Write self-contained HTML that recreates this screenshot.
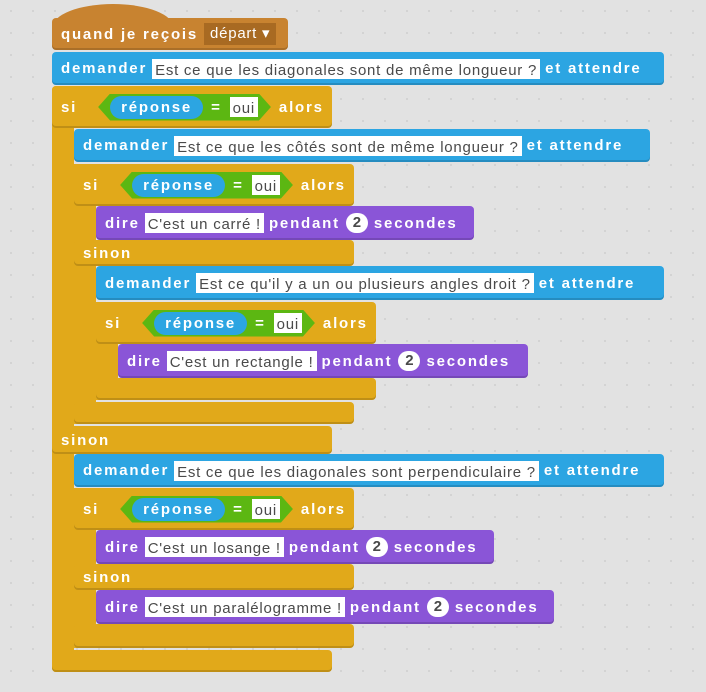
<!DOCTYPE html>
<html><head><meta charset="utf-8"><style>
body{margin:0;width:706px;height:692px;background:#e2e2e2;position:relative;overflow:hidden;
background-image:radial-gradient(#d2d2d2 1px,transparent 1.2px);background-size:22px 22px}
.b{position:absolute;border-radius:4px;display:flex;align-items:center;padding-left:9px;box-sizing:border-box;color:#fff;font:bold 15px "Liberation Sans",sans-serif;letter-spacing:1.8px;white-space:nowrap;box-shadow:inset 0 -2px 0 rgba(0,0,0,.15)}
.r{position:absolute;box-sizing:border-box}
.c{background:#e1a91a}
.s{background:#2ca5e2}
.p{background:#8a55d7}
.inp{background:#fff;color:#4a4a4a;font-weight:normal;letter-spacing:0.75px;padding:1px 3px 0;height:20px;line-height:21px;margin:0 5px 0 5px;box-sizing:border-box}
.num{background:#fff;color:#4a4a4a;border-radius:10px;width:22px;height:20px;line-height:20px;text-align:center;margin:0 6px;font-weight:bold;letter-spacing:0}
.bool{background:#5cb712;height:27px;display:flex;align-items:center;padding:0 13px 0 12px;margin:0 8px 0 21px;clip-path:polygon(12px 0,calc(100% - 12px) 0,100% 50%,calc(100% - 12px) 100%,12px 100%,0 50%)}
.rep{background:#2ca5e2;border-radius:12px;height:23px;line-height:23px;padding:0 11px;margin-right:8px}
.oui{background:#fff;color:#4a4a4a;font-weight:normal;letter-spacing:0.75px;padding:1px 3px 0;height:20px;line-height:21px;margin-left:8px;box-sizing:border-box}
</style></head><body>
<!-- hat -->
<div class="r" style="left:52px;top:4px;width:122px;height:40px;background:#c88330;border-radius:61px 61px 0 0/24px 24px 0 0"></div>
<div class="b" style="left:52px;top:18px;width:236px;height:32px;background:#c88330">quand je reçois <span style="background:#a86a22;font-weight:normal;letter-spacing:0.75px;margin-left:6px;padding:0 6px;height:22px;line-height:22px">départ ▾</span></div>

<div class="b s" style="left:52px;top:52px;width:612px;height:33px">demander<span class="inp">Est ce que les diagonales sont de même longueur ?</span>et attendre</div>

<!-- outer if/else -->
<div class="r c" style="left:52px;top:86px;width:22px;height:586px;border-radius:4px 0 0 4px"></div>
<div class="b c" style="left:52px;top:86px;width:280px;height:42px">si<span class="bool"><span class="rep">réponse</span>=<span class="oui">oui</span></span>alors</div>
<div class="b c" style="left:52px;top:426px;width:280px;height:28px">sinon</div>
<div class="b c" style="left:52px;top:650px;width:280px;height:22px"></div>

<div class="b s" style="left:74px;top:129px;width:576px;height:33px">demander<span class="inp">Est ce que les côtés sont de même longueur ?</span>et attendre</div>

<!-- si2 -->
<div class="r c" style="left:74px;top:164px;width:22px;height:260px"></div>
<div class="b c" style="left:74px;top:164px;width:280px;height:42px">si<span class="bool"><span class="rep">réponse</span>=<span class="oui">oui</span></span>alors</div>
<div class="b p" style="left:96px;top:206px;width:378px;height:34px">dire<span class="inp">C'est un carré !</span>pendant<span class="num">2</span>secondes</div>
<div class="b c" style="left:74px;top:240px;width:280px;height:26px">sinon</div>
<div class="b s" style="left:96px;top:266px;width:568px;height:34px">demander<span class="inp">Est ce qu'il y a un ou plusieurs angles droit ?</span>et attendre</div>
<!-- si3 -->
<div class="r c" style="left:96px;top:302px;width:22px;height:98px"></div>
<div class="b c" style="left:96px;top:302px;width:280px;height:42px">si<span class="bool"><span class="rep">réponse</span>=<span class="oui">oui</span></span>alors</div>
<div class="b p" style="left:118px;top:344px;width:410px;height:34px">dire<span class="inp">C'est un rectangle !</span>pendant<span class="num">2</span>secondes</div>
<div class="b c" style="left:96px;top:378px;width:280px;height:22px"></div>
<div class="b c" style="left:74px;top:402px;width:280px;height:22px"></div>

<div class="b s" style="left:74px;top:454px;width:590px;height:33px">demander<span class="inp">Est ce que les diagonales sont perpendiculaire ?</span>et attendre</div>
<!-- si4 -->
<div class="r c" style="left:74px;top:488px;width:22px;height:160px"></div>
<div class="b c" style="left:74px;top:488px;width:280px;height:42px">si<span class="bool"><span class="rep">réponse</span>=<span class="oui">oui</span></span>alors</div>
<div class="b p" style="left:96px;top:530px;width:398px;height:34px">dire<span class="inp">C'est un losange !</span>pendant<span class="num">2</span>secondes</div>
<div class="b c" style="left:74px;top:564px;width:280px;height:26px">sinon</div>
<div class="b p" style="left:96px;top:590px;width:458px;height:34px">dire<span class="inp">C'est un paralélogramme !</span>pendant<span class="num">2</span>secondes</div>
<div class="b c" style="left:74px;top:624px;width:280px;height:24px"></div>
</body></html>
